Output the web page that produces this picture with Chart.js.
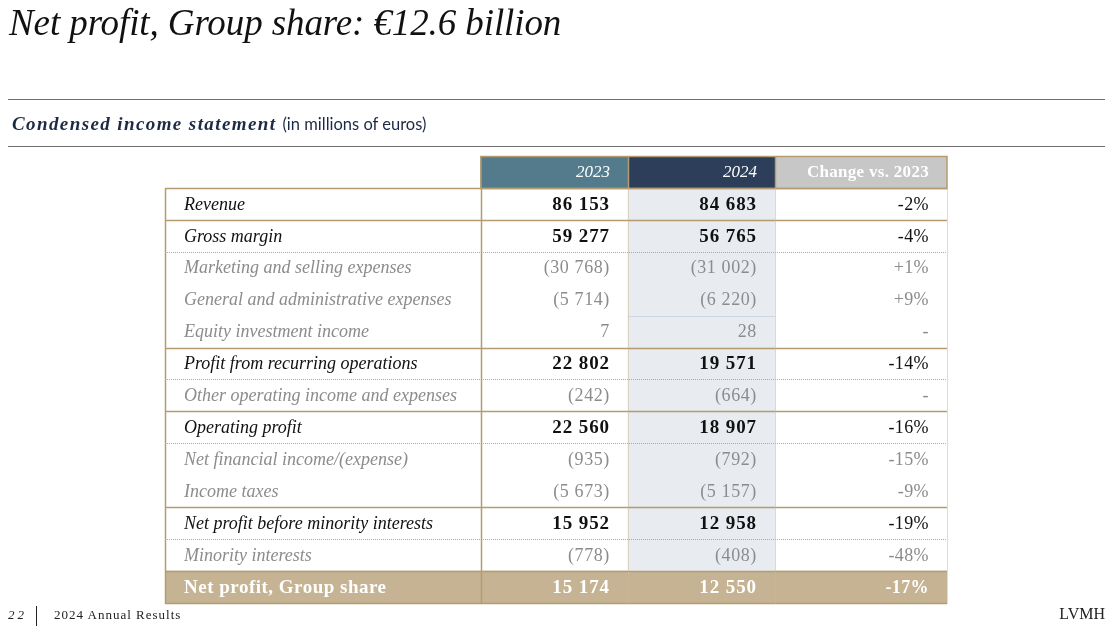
<!DOCTYPE html>
<html lang="en">
<head>
    <meta charset="UTF-8">
    <title>Condensed income statement - LVMH</title>
    <script src="https://cdn.jsdelivr.net/npm/chart.js"></script>
    <style>
        body {
            margin: 0;
            width: 1117px;
            height: 628px;
            overflow: hidden;
            background: #ffffff;
            position: relative;
            font-family: "Liberation Serif", serif;
        }
        #tableChart {
            position: absolute;
            left: 0;
            top: 0;
        }
        .title {
            position: absolute;
            left: 9px;
            top: 1px;
            font-size: 37px;
            font-style: italic;
            color: #111;
            white-space: nowrap;
            letter-spacing: -0.1px;
        }
        .rule {
            position: absolute;
            left: 8px;
            width: 1097px;
            height: 0;
            border-top: 1.5px solid #6f6f6f;
        }
        .subtitle {
            position: absolute;
            left: 12px;
            top: 113px;
            white-space: nowrap;
        }
        .subtitle b {
            font-style: italic;
            font-size: 19px;
            letter-spacing: 1.4px;
            color: #1d2a45;
        }
        .subtitle span {
            font-family: Lato, sans-serif;
            font-size: 16.5px;
            color: #1d2a45;
            margin-left: 2px;
        }
        .footer-left {
            position: absolute;
            left: 8px;
            top: 606px;
            font-size: 13px;
            color: #222;
            white-space: nowrap;
        }
        .footer-left i { letter-spacing: 3px; }
        .footer-left .bar {
            display: inline-block;
            width: 1px;
            height: 20px;
            background: #222;
            vertical-align: middle;
            margin: 0 17px 0 9px;
        }
        .footer-left .txt { letter-spacing: 1px; }
        .footer-right {
            position: absolute;
            right: 12px;
            top: 605px;
            font-size: 16px;
            color: #222;
        }
    </style>
</head>
<body>
    <canvas id="tableChart" width="1117" height="628"></canvas>
    <div class="title">Net profit, Group share: €12.6 billion</div>
    <div class="rule" style="top: 99px;"></div>
    <div class="subtitle"><b>Condensed income statement</b> <span>(in millions of euros)</span></div>
    <div class="rule" style="top: 146px;"></div>
    <div class="footer-left"><i>22</i><span class="bar"></span><span class="txt">2024 Annual Results</span></div>
    <div class="footer-right">LVMH</div>

    <script>
        // Data
        const rowLabels = [
            'Revenue',
            'Gross margin',
            'Marketing and selling expenses',
            'General and administrative expenses',
            'Equity investment income',
            'Profit from recurring operations',
            'Other operating income and expenses',
            'Operating profit',
            'Net financial income/(expense)',
            'Income taxes',
            'Net profit before minority interests',
            'Minority interests',
            'Net profit, Group share'
        ];
        const columnHeaders = ['2023', '2024', 'Change vs. 2023'];
        const values2023 = [86153, 59277, -30768, -5714, 7, 22802, -242, 22560, -935, -5673, 15952, -778, 15174];
        const values2024 = [84683, 56765, -31002, -6220, 28, 19571, -664, 18907, -792, -5157, 12958, -408, 12550];
        const changePct = [-2, -4, 1, 9, null, -14, null, -16, -15, -9, -19, -48, -17];
        // key = bold subtotal, sub = grey detail line, total = gold band
        const rowKinds = ['key', 'key', 'sub', 'sub', 'sub', 'key', 'sub', 'key', 'sub', 'sub', 'key', 'sub', 'total'];
        // line drawn under each row (header first)
        const rowRules = ['solid', 'solid', 'dotted', null, null, 'solid', 'dotted', 'solid', 'dotted', null, 'solid', 'dotted', 'solid', 'solid'];

        // Layout: column edges in % of table width
        const colEdges = [0, 40.4, 59.2, 78.0, 100];

        const TAN = '#b49b70';
        const GREY = '#8c8c8c';
        const SERIF = '"Liberation Serif", serif';

        const categories = ['header'].concat(rowLabels);
        const lastRow = categories.length - 1;

        function fmt(v) {
            const s = Math.abs(v).toString().replace(/\B(?=(\d{3})+(?!\d))/g, ' ');
            return v < 0 ? '(' + s + ')' : s;
        }

        function fmtPct(p) {
            if (p === null) return '-';
            return (p > 0 ? '+' : '-') + Math.abs(p) + '%';
        }

        function cellBar(fromCol, toCol, test) {
            return categories.map((_, i) => test(i) ? [colEdges[fromCol], colEdges[toCol]] : null);
        }

        const tablePlugin = {
            id: 'tableText',
            afterDatasetsDraw(chart) {
                const { ctx, scales: { x, y } } = chart;
                const band = y.getPixelForValue(1) - y.getPixelForValue(0);
                const rowTop = i => y.getPixelForValue(i) - band / 2;
                const rowMid = i => y.getPixelForValue(i);
                const colX = c => x.getPixelForValue(colEdges[c]);
                const left = colX(0), right = colX(4);

                ctx.save();

                // horizontal rules
                rowRules.forEach((style, i) => {
                    if (!style) return;
                    const yy = Math.round(rowTop(i + 1)) + 0.5;
                    ctx.beginPath();
                    if (style === 'dotted') {
                        ctx.setLineDash([1, 1]);
                        ctx.strokeStyle = '#c2a77a';
                        ctx.lineWidth = 1;
                    } else {
                        ctx.setLineDash([]);
                        ctx.strokeStyle = TAN;
                        ctx.lineWidth = 1.5;
                    }
                    ctx.moveTo(left, yy);
                    ctx.lineTo(right, yy);
                    ctx.stroke();
                });
                ctx.setLineDash([]);

                // light line inside the 2024 column
                ctx.strokeStyle = '#cdd6e2';
                ctx.lineWidth = 1;
                ctx.beginPath();
                ctx.moveTo(colX(2), Math.round(rowTop(5)) + 0.5);
                ctx.lineTo(colX(3), Math.round(rowTop(5)) + 0.5);
                ctx.stroke();

                // header box
                const hTop = Math.round(rowTop(0)) + 0.5;
                const hBot = Math.round(rowTop(1)) + 0.5;
                ctx.strokeStyle = TAN;
                ctx.lineWidth = 1.5;
                ctx.strokeRect(colX(1), hTop, right - colX(1), hBot - hTop);
                [2, 3].forEach(c => {
                    ctx.beginPath();
                    ctx.moveTo(Math.round(colX(c)) + 0.5, hTop);
                    ctx.lineTo(Math.round(colX(c)) + 0.5, hBot);
                    ctx.stroke();
                });

                // vertical rules in the body
                const bTop = hBot;
                const bBot = Math.round(rowTop(lastRow + 1)) + 0.5;
                ctx.lineWidth = 1.5;
                ctx.strokeStyle = TAN;
                [0, 1].forEach(c => {
                    ctx.beginPath();
                    ctx.moveTo(Math.round(colX(c)) + 0.5, bTop);
                    ctx.lineTo(Math.round(colX(c)) + 0.5, bBot);
                    ctx.stroke();
                });
                ctx.setLineDash([1, 1]);
                ctx.lineWidth = 1;
                ctx.strokeStyle = '#cdb892';
                [2, 3, 4].forEach(c => {
                    ctx.beginPath();
                    ctx.moveTo(Math.round(colX(c)) + 0.5, bTop);
                    ctx.lineTo(Math.round(colX(c)) + 0.5, bBot);
                    ctx.stroke();
                });
                ctx.setLineDash([]);

                // header text
                ctx.textBaseline = 'middle';
                ctx.textAlign = 'right';
                ctx.fillStyle = '#ffffff';
                ctx.font = 'italic 17px ' + SERIF;
                ctx.fillText(columnHeaders[0], colX(2) - 18, rowMid(0) + 1);
                ctx.fillText(columnHeaders[1], colX(3) - 18, rowMid(0) + 1);
                ctx.font = 'bold 17px ' + SERIF;
                ctx.letterSpacing = '0.3px';
                ctx.fillText(columnHeaders[2], colX(4) - 18, rowMid(0) + 1);
                ctx.letterSpacing = '0px';

                // body text
                rowLabels.forEach((label, r) => {
                    const i = r + 1;
                    const kind = rowKinds[r];
                    const cy = rowMid(i) + 1;

                    ctx.textAlign = 'left';
                    if (kind === 'total') {
                        ctx.fillStyle = '#ffffff';
                        ctx.font = 'bold 19px ' + SERIF;
                        ctx.letterSpacing = '0.5px';
                    } else {
                        ctx.fillStyle = kind === 'key' ? '#111111' : GREY;
                        ctx.font = 'italic 18px ' + SERIF;
                        ctx.letterSpacing = '0px';
                    }
                    ctx.fillText(label, left + 19, cy);

                    ctx.textAlign = 'right';
                    if (kind === 'sub') {
                        ctx.fillStyle = GREY;
                        ctx.font = '18px ' + SERIF;
                        ctx.letterSpacing = '0.6px';
                    } else {
                        ctx.fillStyle = kind === 'total' ? '#ffffff' : '#111111';
                        ctx.font = 'bold 19px ' + SERIF;
                        ctx.letterSpacing = '0.9px';
                    }
                    ctx.fillText(fmt(values2023[r]), colX(2) - 18, cy);
                    ctx.fillText(fmt(values2024[r]), colX(3) - 18, cy);

                    ctx.letterSpacing = '0.4px';
                    if (kind === 'sub') {
                        ctx.fillStyle = GREY;
                        ctx.font = '18px ' + SERIF;
                    } else if (kind === 'total') {
                        ctx.fillStyle = '#ffffff';
                        ctx.font = 'bold 18px ' + SERIF;
                    } else {
                        ctx.fillStyle = '#111111';
                        ctx.font = '18px ' + SERIF;
                    }
                    ctx.fillText(fmtPct(changePct[r]), colX(4) - 18, cy);
                    ctx.letterSpacing = '0px';
                });

                ctx.restore();
            }
        };

        const ctx = document.getElementById('tableChart').getContext('2d');
        new Chart(ctx, {
            type: 'bar',
            data: {
                labels: categories,
                datasets: [
                    { label: '2023 header', data: cellBar(1, 2, i => i === 0), backgroundColor: '#547b8c' },
                    { label: '2024 header', data: cellBar(2, 3, i => i === 0), backgroundColor: '#2c3e59' },
                    { label: 'Change header', data: cellBar(3, 4, i => i === 0), backgroundColor: '#c7c7c7' },
                    { label: '2024 column', data: cellBar(2, 3, i => i > 0 && i < lastRow), backgroundColor: '#e8ebf0' },
                    { label: 'Total row', data: cellBar(0, 4, i => i === lastRow), backgroundColor: '#c5b393' }
                ].map(ds => Object.assign(ds, {
                    grouped: false,
                    barPercentage: 1,
                    categoryPercentage: 1,
                    borderWidth: 0
                }))
            },
            options: {
                indexAxis: 'y',
                responsive: false,
                animation: false,
                layout: {
                    padding: { left: 165, right: 170, top: 156, bottom: 25 }
                },
                plugins: {
                    legend: { display: false },
                    tooltip: { enabled: false }
                },
                scales: {
                    x: { type: 'linear', min: 0, max: 100, display: false },
                    y: { type: 'category', display: false }
                }
            },
            plugins: [tablePlugin]
        });
    </script>
</body>
</html>
